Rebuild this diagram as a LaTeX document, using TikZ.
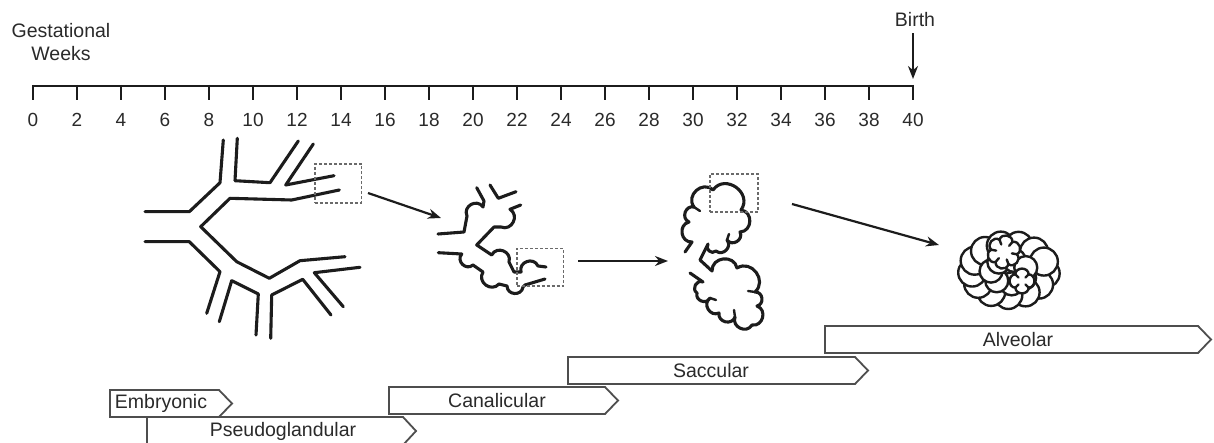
\documentclass[tikz,border=0pt]{standalone}
\usepackage{fontspec}
\setmainfont{Liberation Sans}
\usetikzlibrary{arrows.meta,calc}
\definecolor{ink}{HTML}{1C1C1C}
\definecolor{txt}{HTML}{2A2A2A}
\definecolor{barline}{HTML}{4E4E4E}
\definecolor{boxline}{HTML}{6A6A6A}

% phase bar: left, top, right end of body, bottom
\newcommand{\phasebar}[4]{%
  \draw[phasebox] (#1,#2) -- (#3,#2) -- ({#3+13},{(#2+#4)/2}) -- (#3,#4) -- (#1,#4) -- cycle;}

\begin{document}
\begin{tikzpicture}[x=1pt,y=-1pt,
  wall/.style={draw=ink,line width=3.1pt,line join=round,line cap=round},
  axisline/.style={draw=ink,line width=2.8pt},
  lbl/.style={font=\fontsize{19.5}{23}\selectfont,text=txt,inner sep=0pt},
  num/.style={font=\fontsize{19}{22}\selectfont,text=txt,inner sep=0pt},
  phasebox/.style={draw=barline,line width=1.8pt,fill=white,line join=miter},
  zoombox/.style={draw=boxline,line width=1.6pt,dash pattern=on 3pt off 2pt,inner sep=0pt},
  stagearrow/.style={draw=ink,line width=2.2pt,-{Stealth[length=13pt,width=10pt]}},
  lobe/.style={bend left=85,looseness=1.45},
  biglobe/.style={bend left=90,looseness=1.55},
  dip/.style={bend right=85,looseness=1.5},
  bump/.style={bend left=85,looseness=1.5},
  alv/.style={draw=ink,line width=2.4pt,fill=white,line join=round},
  septum/.style={draw=ink,line width=2.4pt,line cap=round}]
\useasboundingbox (0,0) rectangle (1214,443);
\clip (0,0) rectangle (1214,443);

% ---------- time axis ----------
\node[lbl,align=center] (gw) at (61,42.5) {Gestational\\Weeks};
\node[lbl] (birth) at (915,20) {Birth};
\draw[axisline] (33,86) -- (913,86);
\foreach \k [evaluate=\k as \w using int(2*\k)] in {0,...,20}{
  \draw[axisline] ({33+44*\k},85) -- ({33+44*\k},100);
  \node[num] (w\w) at ({33+44*\k},120) {\w};
}
\coordinate (birthtip) at (913,79);
\draw[draw=ink,line width=2.3pt,-{Stealth[length=13pt,width=10pt]}] (birth.south -| birthtip) ++(0,6) -- (birthtip);

% ---------- pseudoglandular tree ----------
\draw[wall] (145,211.7) -- (189.3,211.7) -- (220,182.7) -- (223.3,140);
\draw[wall] (237.3,138.3) -- (235,180.7) -- (270,182.7) -- (298.3,141);
\draw[wall] (313.3,144) -- (285.7,185) -- (334,175.7);
\draw[wall] (339.3,190) -- (291.7,200) -- (230,198.3) -- (200.7,226.7) -- (236.7,261.7)
  -- (269.3,278.3) -- (300,260.7) -- (345,256.7);
\draw[wall] (145,241.7) -- (189.3,241.7) -- (220,271.7) -- (206.7,313.3);
\draw[wall] (219.3,321.7) -- (231.7,280.7) -- (258.3,294) -- (256,335);
\draw[wall] (270.7,338.3) -- (271.7,295) -- (302.7,279.3) -- (331,315);
\draw[wall] (343.3,306.7) -- (314.3,272.7) -- (360,267.3);
\node[zoombox,minimum width=46.7pt,minimum height=38.7pt] (box1) at (338.3,183.4) {};

% ---------- canalicular tree ----------
\draw[wall] (476.7,187.7) -- (484,201) -- (483,207) to[dip] (467,216) -- (464,232) -- (438,234);
\draw[wall] (490,185) -- (498.3,198.3) -- (516,191.7);
\draw[wall] (520.7,205) -- (510,209.3) to[bump] (501,227) -- (494,227) -- (476.7,245)
  -- (491.7,255) to[bump] (509,262) -- (514,272) -- (521,272) to[bump] (538,266) -- (546,267);
\draw[wall] (438.3,252.7) -- (461.7,254) to[dip] (473,265) -- (483,272) to[dip] (499,284)
  -- (507,286) to[dip] (523,287) -- (525,285) -- (545,279);
\node[zoombox,minimum width=46.6pt,minimum height=37.7pt] (box2) at (540,267.2) {};

% ---------- saccular stage ----------
\draw[wall] (685,252) -- (692,242)
  to[lobe] (689,222) to[lobe] (694,207) to[lobe] (713,190)
  to[biglobe] (741,210) to[lobe] (740,232) to[lobe] (727,240) to[lobe] (716,251)
  to[lobe] (708,244) -- (700,260) -- (712,271)
  to[lobe] (737,268) to[lobe] (755,292) to[lobe] (757,306)
  to[lobe] (752,325) to[lobe] (735,317) to[lobe] (719,313) to[lobe] (710,298)
  to[lobe] (697,293) to[lobe] (703,282) -- (690,273);
\draw[septum] (694,207) -- (700,211);
\draw[septum] (727,240) -- (729,234);
\draw[septum] (755,292) -- (748,291);
\draw[septum] (735,317) -- (734,310);
\draw[septum] (710,298) -- (716,300);
\node[zoombox,minimum width=48pt,minimum height=38pt] (box3) at (734,193.2) {};

% ---------- alveolar stage ----------
% outer ring of alveoli
\foreach \i in {0,...,12}{
  \draw[alv] ({1009+37*cos(\i*360/13+8)},{270+25*sin(\i*360/13+8)}) circle (14);
}
% inner alveoli
\foreach \i in {0,...,6}{
  \draw[alv] ({1009+18*cos(\i*360/7+30)},{272+12*sin(\i*360/7+30)}) circle (11.5);
}
% central rosette
\begin{scope}[shift={(1004,252)}]
  \draw[alv] (10:13) \foreach \a in {70,130,...,370}{ to[lobe] (\a:13) } -- cycle;
  \foreach \a in {10,70,...,310}{ \draw[septum] (\a:13) -- (\a:8); }
\end{scope}
% lower rosette
\begin{scope}[shift={(1022,281)}]
  \draw[alv] (45:9.5) \foreach \a in {135,225,315,405}{ to[lobe] (\a:9.5) } -- cycle;
  \foreach \a in {45,135,225,315}{ \draw[septum] (\a:9.5) -- (\a:5); }
\end{scope}

% ---------- stage arrows ----------
\coordinate (a1s) at (368,193);  \coordinate (a1e) at (441,218);
\coordinate (a2s) at (578,261);  \coordinate (a2e) at (668,261);
\coordinate (a3s) at (792,204);  \coordinate (a3e) at (939,245);
\draw[stagearrow] (a1s) -- (a1e);
\draw[stagearrow] (a2s) -- (a2e);
\draw[stagearrow] (a3s) -- (a3e);

% ---------- phase bars ----------
\phasebar{825}{326}{1198}{353}
\node[lbl] (alveolar) at (1018,339.5) {Alveolar};
\phasebar{568}{357}{855}{384}
\node[lbl] (saccular) at (711,370.5) {Saccular};
\phasebar{389}{387}{605}{414}
\node[lbl] (canalicular) at (497,400.5) {Canalicular};
\phasebar{110}{390}{219}{417}
\node[lbl] (embryonic) at (161,403.5) {Embryonic};
\phasebar{147}{417}{403}{445}
\node[lbl] (pseudo) at (283,431) {Pseudoglandular};
\end{tikzpicture}
\end{document}
